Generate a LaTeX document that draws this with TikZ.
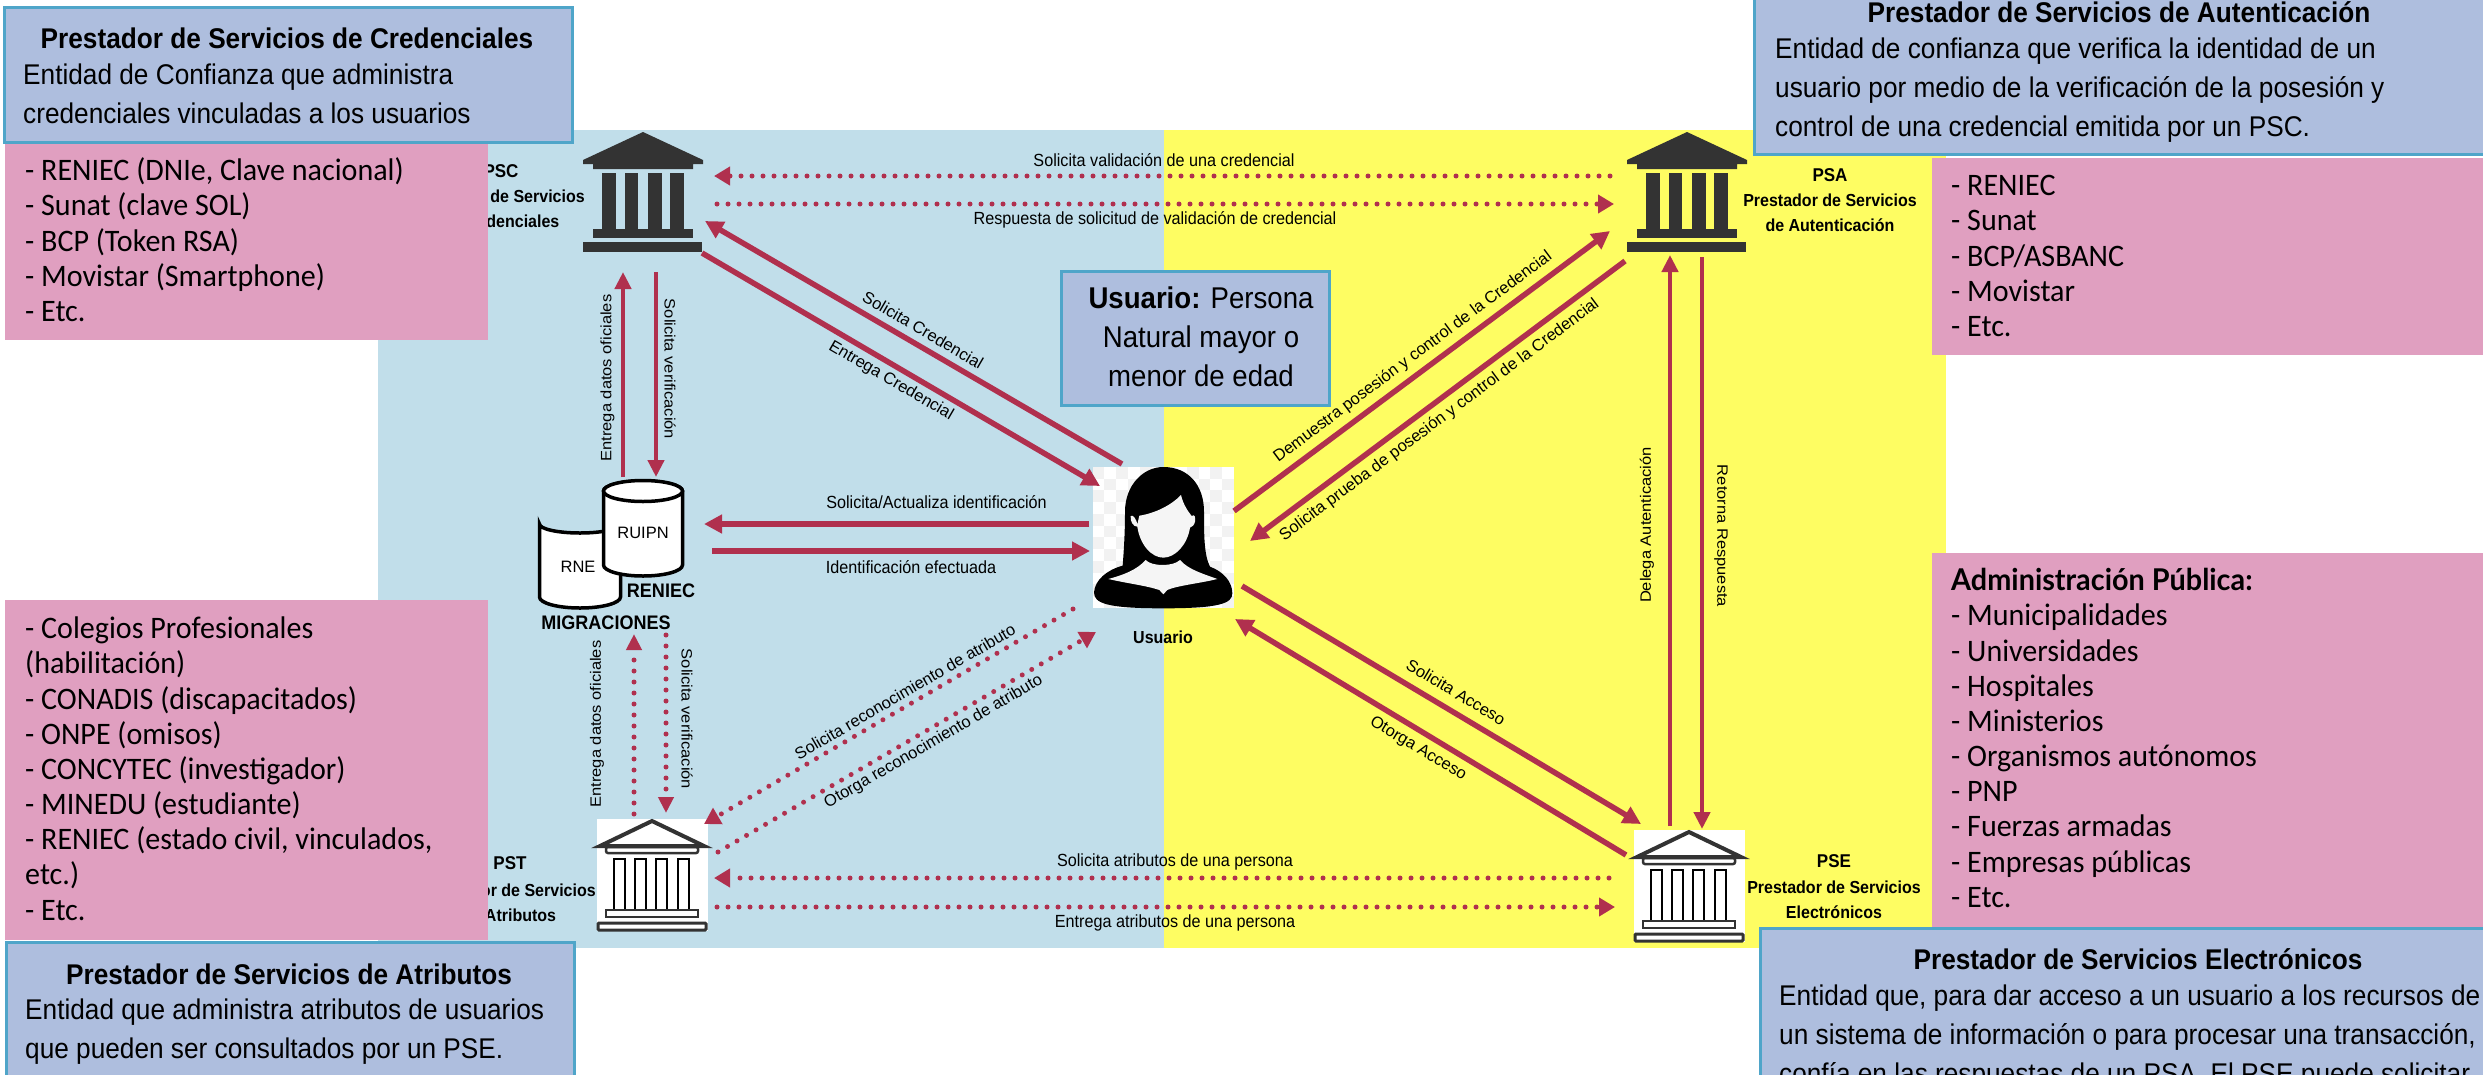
\documentclass[tikz,border=0pt]{standalone}
\usepackage{fontspec}
\setmainfont{Liberation Sans}
\newfontfamily\hn[FakeStretch=0.92]{Liberation Sans}
\newfontfamily\vn[FakeStretch=1.1]{Liberation Sans}
\newfontfamily\gillf[FakeStretch=0.96]{Carlito}
\newfontfamily\gillb[FakeStretch=0.96]{Lato}
\usetikzlibrary{arrows.meta}
\definecolor{bgblue}{HTML}{C1DEEA}
\definecolor{bgyellow}{HTML}{FEFD62}
\definecolor{boxblue}{HTML}{AEBEDE}
\definecolor{boxedge}{HTML}{4FA5C9}
\definecolor{boxpink}{HTML}{E09FC0}
\definecolor{arrowred}{HTML}{B0304E}
\definecolor{templedark}{HTML}{333333}
\newcommand{\fsz}[2]{\fontsize{#1}{#2}\selectfont}
\tikzset{
 x=1pt,y=-1pt,
 bluebox/.style={fill=boxblue,draw=boxedge,line width=3pt},
 pinkbox/.style={fill=boxpink},
 titletxt/.style={font=\hn\fsz{28.5}{39}\bfseries,inner sep=0pt},
 bodytxt/.style={font=\hn\fsz{28.5}{39},anchor=north west,align=left,inner sep=0pt},
 pinktxt/.style={font=\gillf\fsz{31.3}{35.15},anchor=north west,align=left,inner sep=0pt},
 plabel/.style={font=\hn\fsz{17.6}{18},inner sep=0pt},
 dlabel/.style={font=\fsz{16.5}{18},inner sep=0pt},
 vlabel/.style={font=\vn\fsz{15}{18},inner sep=0pt},
 provname/.style={font=\hn\fsz{19.6}{20}\bfseries,inner sep=0pt},
 provabbr/.style={font=\hn\fsz{18.5}{20}\bfseries,inner sep=0pt},
 provsub/.style={font=\hn\fsz{17.4}{25}\bfseries,align=center,inner sep=0pt},
 thick arrow/.style={draw=arrowred,line width=5.5pt,-{Triangle[length=18pt,width=18pt]}},
 thin arrow/.style={draw=arrowred,line width=4.5pt,-{Triangle[length=17pt,width=16pt]}},
 dot arrow/.style={draw=arrowred,line width=5pt,line cap=round,dash pattern=on 0pt off 11pt,-{Triangle[length=16pt,width=18pt]}},
 dot arrow v/.style={draw=arrowred,line width=5pt,line cap=round,dash pattern=on 0pt off 11pt,-{Triangle[length=16pt,width=15pt]}},
}
\newcommand{\darktemple}[2]{%
 \begin{scope}[shift={(#1,#2)},templedark]
  \fill (0,0)--(60,28)--(60,32)--(50,32)--(50,37)--(-50,37)--(-50,32)--(-60,32)--(-60,28)--cycle;
  \fill (-41,41) rectangle (-27,97);
  \fill (-18,41) rectangle (-5,97);
  \fill (5,41) rectangle (19,97);
  \fill (27,41) rectangle (41,97);
  \fill (-50,97) rectangle (50,106);
  \fill (-60,110) rectangle (59,120);
 \end{scope}}
\newcommand{\outlinetemple}[2]{%
 \begin{scope}[shift={(#1,#2)}]
  \fill[white] (-55,-1) rectangle (56,111);
  \draw[templedark,line width=4pt,fill=white,line join=miter] (-52,26)--(0,1)--(52,26)--cycle;
  \draw[templedark,line width=2.5pt,rounded corners=2pt] (-46,27) rectangle (46,33);
  \draw[black,line width=2.5pt] (-38,90)--(-38,39)--(-27,39)--(-27,90)--(-17,90)--(-17,39)--(-6,39)--(-6,90)--(4,90)--(4,39)--(15,39)--(15,90)--(26,90)--(26,39)--(37,39)--(37,90);
  \draw[templedark,line width=2.5pt] (-46,90) rectangle (46,97);
  \draw[templedark,line width=3pt,rounded corners=1pt] (-54,103) rectangle (54,110);
 \end{scope}}
\begin{document}
\begin{tikzpicture}
\useasboundingbox (0,0) rectangle (2483,1074);
\clip (0,0) rectangle (2483,1074);
\fill[white] (0,0) rectangle (2483,1074);
% backgrounds
\fill[bgblue] (378,130) rectangle (1164,948);
\fill[bgyellow] (1164,130) rectangle (1946,948);
% icons
\darktemple{643}{132}
\darktemple{1687}{132}
\outlinetemple{652}{820}
\outlinetemple{1689}{831}
% cylinders
\draw[line width=3.5pt,fill=white] (539.5,524) arc[start angle=180,end angle=0,x radius=40.5,y radius=9] -- (620.5,597) arc[start angle=0,end angle=180,x radius=40.5,y radius=11] -- cycle;
\draw[line width=3.5pt,fill=white] (603.5,491) arc[start angle=180,end angle=360,x radius=39.5,y radius=10] -- (682.5,565) arc[start angle=0,end angle=180,x radius=39.5,y radius=11] -- cycle;
\draw[line width=3.5pt,fill=white] (643,491) ellipse[x radius=39.5,y radius=10.5];
\node[font=\fsz{16.5}{18},inner sep=0pt] (ruipn) at (643,533) {RUIPN};
\node[font=\fsz{16.5}{18},inner sep=0pt] (rne) at (578,567) {RNE};
\node[provname] (reniec) at (661,591) {RENIEC};
\node[provname] (migr) at (606,623) {MIGRACIONES};
% user
\begin{scope}[shift={(1080,455)},x=0.3333pt,y=-0.3333pt]
 \fill[white] (38,36) rectangle (462,458);
 \foreach \i in {0,...,11}{\foreach \j in {0,...,11}{
   \pgfmathparse{int(mod(\i+\j,2))}
   \ifnum\pgfmathresult=0
    \fill[black!5] ({38+\i*35.3},{36+\j*35.2}) rectangle ({38+(\i+1)*35.3},{36+(\j+1)*35.2});
   \fi}}
 \fill[black] (135,170) .. controls (135,90) and (190,36) .. (250,36) .. controls (325,36) and (372,90) .. (372,170) .. controls (372,240) and (372,300) .. (390,335) .. controls (430,350) and (457,380) .. (457,415) .. controls (457,445) and (420,460) .. (250,460) .. controls (80,460) and (42,445) .. (42,412) .. controls (45,375) and (80,345) .. (128,332) .. controls (132,280) and (135,230) .. (135,170) -- cycle;
 \fill[black!4] (178,182) .. controls (225,175) and (275,150) .. (303,120) .. controls (310,150) and (325,170) .. (335,183) .. controls (345,175) and (347,190) .. (345,200) .. controls (343,212) and (335,215) .. (330,218) .. controls (322,270) and (285,308) .. (250,308) .. controls (215,308) and (180,270) .. (172,215) .. controls (160,215) and (150,200) .. (152,183) .. controls (160,178) and (170,195) .. (172,208) -- cycle;
 \fill[black!4] (197,315) .. controls (215,335) and (280,335) .. (300,315) .. controls (325,345) and (380,360) .. (412,372) .. controls (360,385) and (290,392) .. (262,405) -- (250,418) -- (238,405) .. controls (200,392) and (140,385) .. (85,372) .. controls (130,360) and (170,345) .. (197,315) -- cycle;
\end{scope}
\node[font=\hn\fsz{17.4}{18}\bfseries,inner sep=0pt] (usuario) at (1163,637) {Usuario};
% provider labels
\node[provabbr] (pscl) at (501,171) {PSC};
\node[provsub] (pscs) at (498,208.5) {Prestador de Servicios\\de Credenciales};
\node[provabbr] (psal) at (1830,175) {PSA};
\node[provsub] (psas) at (1830,213) {Prestador de Servicios\\de Autenticación};
\node[provabbr] (psel) at (1834,861) {PSE};
\node[provsub] (pses) at (1834,899.5) {Prestador de Servicios\\Electrónicos};
\node[provabbr] (pstl) at (510,863.5) {PST};
\node[provsub] (psts) at (509,902.5) {Prestador de Servicios\\de Atributos};
% connector ends
\coordinate (c1s) at (1610,176); \coordinate (c1e) at (714,176);
\coordinate (c2s) at (717,204); \coordinate (c2e) at (1614,204);
\coordinate (c3s) at (1122,464); \coordinate (c3e) at (705,221);
\coordinate (c4s) at (702,253); \coordinate (c4e) at (1100,486);
\coordinate (c5s) at (623,477); \coordinate (c5e) at (623,272);
\coordinate (c6s) at (656,272); \coordinate (c6e) at (656,477);
\coordinate (c7s) at (1089,524); \coordinate (c7e) at (704,524);
\coordinate (c8s) at (712,551); \coordinate (c8e) at (1090,551);
\coordinate (c9s) at (1234,511); \coordinate (c9e) at (1610,231);
\coordinate (c10s) at (1625,261); \coordinate (c10e) at (1250,541);
\coordinate (c11s) at (1670,826); \coordinate (c11e) at (1670,255);
\coordinate (c12s) at (1702,257); \coordinate (c12e) at (1702,829);
\coordinate (c13s) at (1242,586); \coordinate (c13e) at (1641,824);
\coordinate (c14s) at (1626,855); \coordinate (c14e) at (1235,619);
\coordinate (c15s) at (1609,878); \coordinate (c15e) at (714,878);
\coordinate (c16s) at (717,907); \coordinate (c16e) at (1615,907);
\coordinate (c17s) at (634,814); \coordinate (c17e) at (634,634);
\coordinate (c18s) at (666,635); \coordinate (c18e) at (666,813);
\coordinate (c19s) at (1073,609); \coordinate (c19e) at (704,824);
\coordinate (c20s) at (718,852); \coordinate (c20e) at (1096,632);
% connectors
\draw[dot arrow] (c1s) -- (c1e);
\draw[dot arrow] (c2s) -- (c2e);
\draw[thick arrow] (c3s) -- (c3e);
\draw[thick arrow] (c4s) -- (c4e);
\draw[thin arrow] (c5s) -- (c5e);
\draw[thin arrow] (c6s) -- (c6e);
\draw[thick arrow] (c7s) -- (c7e);
\draw[thick arrow] (c8s) -- (c8e);
\draw[thick arrow] (c9s) -- (c9e);
\draw[thick arrow] (c10s) -- (c10e);
\draw[thin arrow] (c11s) -- (c11e);
\draw[thin arrow] (c12s) -- (c12e);
\draw[thick arrow] (c13s) -- (c13e);
\draw[thick arrow] (c14s) -- (c14e);
\draw[dot arrow] (c15s) -- (c15e);
\draw[dot arrow] (c16s) -- (c16e);
\draw[dot arrow v] (c17s) -- (c17e);
\draw[dot arrow v] (c18s) -- (c18e);
\draw[dot arrow] (c19s) -- (c19e);
\draw[dot arrow] (c20s) -- (c20e);
% connector labels
\node[plabel] (l1) at (1164,160) {Solicita validación de una credencial};
\node[plabel] (l2) at (1155,220) {Respuesta de solicitud de validación de credencial};
\node[dlabel,rotate=-30.3] (l3) at (923,330) {Solicita Credencial};
\node[dlabel,rotate=-30.3] (l4) at (891,381) {Entrega Credencial};
\node[vlabel,rotate=90] (l5) at (607.5,378) {Entrega datos oficiales};
\node[vlabel,rotate=-90] (l6) at (670,369) {Solicita verificación};
\node[plabel] (l7) at (936.5,502.5) {Solicita/Actualiza identificación};
\node[plabel] (l8) at (911,567) {Identificación efectuada};
\node[dlabel,rotate=36.7] (l9) at (1413,357) {Demuestra posesión y control de la Credencial};
\node[dlabel,rotate=36.7] (l10) at (1439.5,420) {Solicita prueba de posesión y control de la Credencial};
\node[vlabel,rotate=90] (l11) at (1647,525) {Delega Autenticación};
\node[vlabel,rotate=-90] (l12) at (1721,536) {Retorna Respuesta};
\node[dlabel,rotate=-30.8] (l13) at (1456,692) {Solicita Acceso};
\node[dlabel,rotate=-31] (l14) at (1418,749) {Otorga Acceso};
\node[plabel] (l15) at (1175,862) {Solicita atributos de una persona};
\node[plabel] (l16) at (1175,923) {Entrega atributos de una persona};
\node[vlabel,rotate=90] (l17) at (597,724) {Entrega datos oficiales};
\node[vlabel,rotate=-90] (l18) at (687,719) {Solicita verificación};
\node[dlabel,rotate=30.2] (l19) at (905,691.6) {Solicita reconocimiento de atributo};
\node[dlabel,rotate=30.2] (l20) at (933.6,742) {Otorga reconocimiento de atributo};
% pink boxes
\fill[pinkbox] (5,142) rectangle (488,340);
\fill[pinkbox] (1932,157.5) rectangle (2483,355);
\fill[pinkbox] (5,600) rectangle (488,940);
\fill[pinkbox] (1932,553) rectangle (2483,928);
\node[pinktxt] (p1) at (25,156) {\strut - RENIEC (DNIe, Clave nacional)\\\strut - Sunat (clave SOL)\\\strut - BCP (Token RSA)\\\strut - Movistar (Smartphone)\\\strut - Etc.};
\node[pinktxt] (p2) at (1951,171) {\strut - RENIEC\\\strut - Sunat\\\strut - BCP/ASBANC\\\strut - Movistar\\\strut - Etc.};
\node[pinktxt] (p3) at (25,614) {\strut - Colegios Profesionales\\\strut (habilitación)\\\strut - CONADIS (discapacitados)\\\strut - ONPE (omisos)\\\strut - CONCYTEC (investigador)\\\strut - MINEDU (estudiante)\\\strut - RENIEC (estado civil, vinculados,\\\strut etc.)\\\strut - Etc.};
\node[pinktxt] (p4) at (1951,566) {\strut {\gillb\fsz{30}{35.15}\bfseries Administración Pública:}\\\strut - Municipalidades\\\strut - Universidades\\\strut - Hospitales\\\strut - Ministerios\\\strut - Organismos autónomos\\\strut - PNP\\\strut - Fuerzas armadas\\\strut - Empresas públicas\\\strut - Etc.};
% blue boxes
\draw[bluebox] (4,7) rectangle (572,142);
\draw[bluebox] (1754,-20) rectangle (2500,154);
\draw[bluebox] (6,942) rectangle (574,1100);
\draw[bluebox] (1760,928) rectangle (2500,1100);
\draw[bluebox] (1061,271) rectangle (1329,405);
\node[titletxt] (t1) at (287,38) {Prestador de Servicios de Credenciales};
\node[bodytxt] (b1) at (23,57) {\strut Entidad de Confianza que administra\\\strut credenciales vinculadas a los usuarios};
\node[titletxt] (t2) at (2119,12) {Prestador de Servicios de Autenticación};
\node[bodytxt] (b2) at (1775,31) {\strut Entidad de confianza que verifica la identidad de un\\\strut usuario por medio de la verificación de la posesión y\\\strut control de una credencial emitida por un PSC.};
\node[titletxt] (t3) at (289,974) {Prestador de Servicios de Atributos};
\node[bodytxt] (b3) at (25,992) {\strut Entidad que administra atributos de usuarios\\\strut que pueden ser consultados por un PSE.};
\node[titletxt] (t4) at (2138,959) {Prestador de Servicios Electrónicos};
\node[bodytxt] (b4) at (1779,978) {\strut Entidad que, para dar acceso a un usuario a los recursos de\\\strut un sistema de información o para procesar una transacción,\\\strut confía en las respuestas de un PSA. El PSE puede solicitar};
\node[font=\hn\fsz{30}{39},align=center,inner sep=0pt,anchor=north] (u1) at (1201,281) {\strut \textbf{Usuario:} Persona\\\strut Natural mayor o\\\strut menor de edad};
\end{tikzpicture}
\end{document}
